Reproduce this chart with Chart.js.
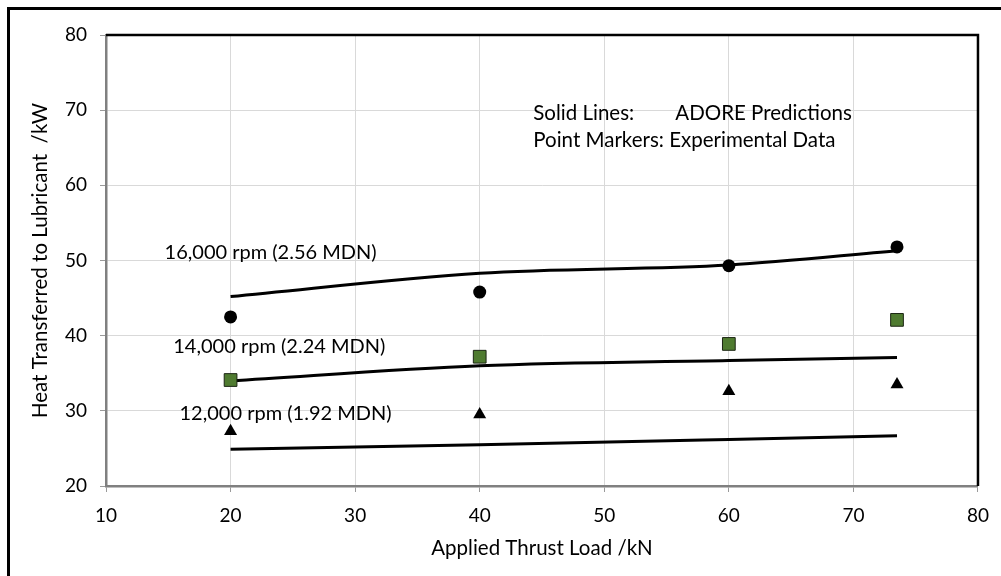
<!DOCTYPE html>
<html>
<head>
<meta charset="utf-8">
<script src="https://cdn.jsdelivr.net/npm/chart.js@4.4.1/dist/chart.umd.min.js"></script>
<style>
  html, body { margin: 0; padding: 0; background: #fff; }
  #wrap { position: relative; width: 1001px; height: 576px; overflow: hidden; }
  #frame { position: absolute; left: 7px; top: 7px; width: 1100px; height: 700px;
           border-left: 3px solid #000; border-top: 3px solid #000; }
  canvas { position: absolute; left: 0; top: 0; }
</style>
</head>
<body>
<div id="wrap">
  <div id="frame"></div>
  <canvas id="heatChart" width="1001" height="576"></canvas>
</div>
<script>
const FONT = "Lato, 'Liberation Sans', sans-serif";
Chart.defaults.font.family = FONT;
Chart.defaults.color = '#000';

// thrust load (kN) at which both measurements and predictions exist
const loads = [20, 40, 60, 73.5];

// ADORE predictions, kW
const pred16k = [45.2, 48.3, 49.4, 51.3];
const pred14k = [34.0, 36.0, 36.7, 37.1];
const pred12k = [24.9, 25.5, 26.2, 26.7];

// experimental data, kW
const exp16k = [42.5, 45.8, 49.3, 51.8];
const exp14k = [34.1, 37.2, 38.9, 42.1];
const exp12k = [27.3, 29.5, 32.6, 33.5];

const xTicks = [10, 20, 30, 40, 50, 60, 70, 80];
const yTicks = [20, 30, 40, 50, 60, 70, 80];

const speedLabels = ['16,000 rpm (2.56 MDN)', '14,000 rpm (2.24 MDN)', '12,000 rpm (1.92 MDN)'];
const noteLines = ['Solid Lines:', 'Point Markers: Experimental Data'];
const noteRight = 'ADORE Predictions';

const pts = vals => loads.map((x, i) => ({ x, y: vals[i] }));

const lineSet = vals => ({
  data: pts(vals),
  showLine: true,
  borderColor: '#000',
  borderWidth: 3,
  pointRadius: 0,
  cubicInterpolationMode: 'monotone',
  order: 2,
});

// black top/right edge of the plot box
const plotFrame = {
  id: 'plotFrame',
  afterDatasetsDraw(chart) {
    const { ctx, chartArea: a } = chart;
    ctx.save();
    ctx.strokeStyle = '#000';
    ctx.lineWidth = 2.5;
    ctx.beginPath();
    ctx.moveTo(a.left, a.top);
    ctx.lineTo(a.right, a.top);
    ctx.lineTo(a.right, a.bottom);
    ctx.stroke();
    ctx.restore();
  },
};

// curve names and the key text, placed in data units
const textNotes = {
  id: 'textNotes',
  afterDraw(chart) {
    const { ctx, scales: { x, y } } = chart;
    ctx.save();
    ctx.fillStyle = '#000';
    ctx.textBaseline = 'middle';
    ctx.textAlign = 'left';
    ctx.font = `20px ${FONT}`;
    const spots = [[14.7, 51.0], [15.4, 38.6], [15.9, 29.7]];
    speedLabels.forEach((t, i) => ctx.fillText(t, x.getPixelForValue(spots[i][0]), y.getPixelForValue(spots[i][1])));
    ctx.font = `20.5px ${FONT}`;
    ctx.fillText(noteLines[0], x.getPixelForValue(44.3), y.getPixelForValue(69.6));
    ctx.fillText(noteRight, x.getPixelForValue(55.7), y.getPixelForValue(69.6));
    ctx.fillText(noteLines[1], x.getPixelForValue(44.3), y.getPixelForValue(66.0));
    ctx.restore();
  },
};

new Chart(document.getElementById('heatChart'), {
  type: 'scatter',
  data: {
    datasets: [
      lineSet(pred16k),
      lineSet(pred14k),
      lineSet(pred12k),
      { data: pts(exp16k), pointStyle: 'circle', pointRadius: 6.5, backgroundColor: '#000', borderColor: '#000', borderWidth: 0, order: 1 },
      { data: pts(exp14k), pointStyle: 'rect', pointRadius: 9, backgroundColor: '#4f7b30', borderColor: '#1c2614', borderWidth: 1, order: 1 },
      { data: pts(exp12k), pointStyle: 'triangle', pointRadius: 7.5, backgroundColor: '#000', borderColor: '#000', borderWidth: 0, order: 1 },
    ],
  },
  options: {
    responsive: false,
    animation: false,
    layout: { padding: { left: 0, top: 35, right: 20, bottom: 0 } },
    plugins: { legend: { display: false }, tooltip: { enabled: false } },
    scales: {
      x: {
        type: 'linear', min: 10, max: 80,
        afterBuildTicks: s => { s.ticks = xTicks.map(v => ({ value: v })); },
        afterFit: s => { s.height = 90; },
        grid: { color: '#d9d9d9', tickColor: '#9a9a9a', tickLength: 6 },
        border: { color: '#808080', width: 2.5 },
        ticks: { font: { size: 19 }, color: '#000', padding: 12 },
        title: { display: true, text: 'Applied Thrust Load /kN', font: { size: 20.5 }, color: '#000', padding: { bottom: 15 } },
      },
      y: {
        type: 'linear', min: 20, max: 80,
        afterBuildTicks: s => { s.ticks = yTicks.map(v => ({ value: v })); },
        afterFit: s => { s.width = 106; },
        grid: { color: '#d9d9d9', tickColor: '#9a9a9a', tickLength: 6 },
        border: { color: '#808080', width: 2.5 },
        ticks: { font: { size: 19 }, color: '#000', padding: 13 },
        title: { display: true, text: 'Heat Transferred to Lubricant  /kW', font: { size: 20.5 }, color: '#000', padding: { top: 28 } },
      },
    },
  },
  plugins: [plotFrame, textNotes],
});
</script>
</body>
</html>
